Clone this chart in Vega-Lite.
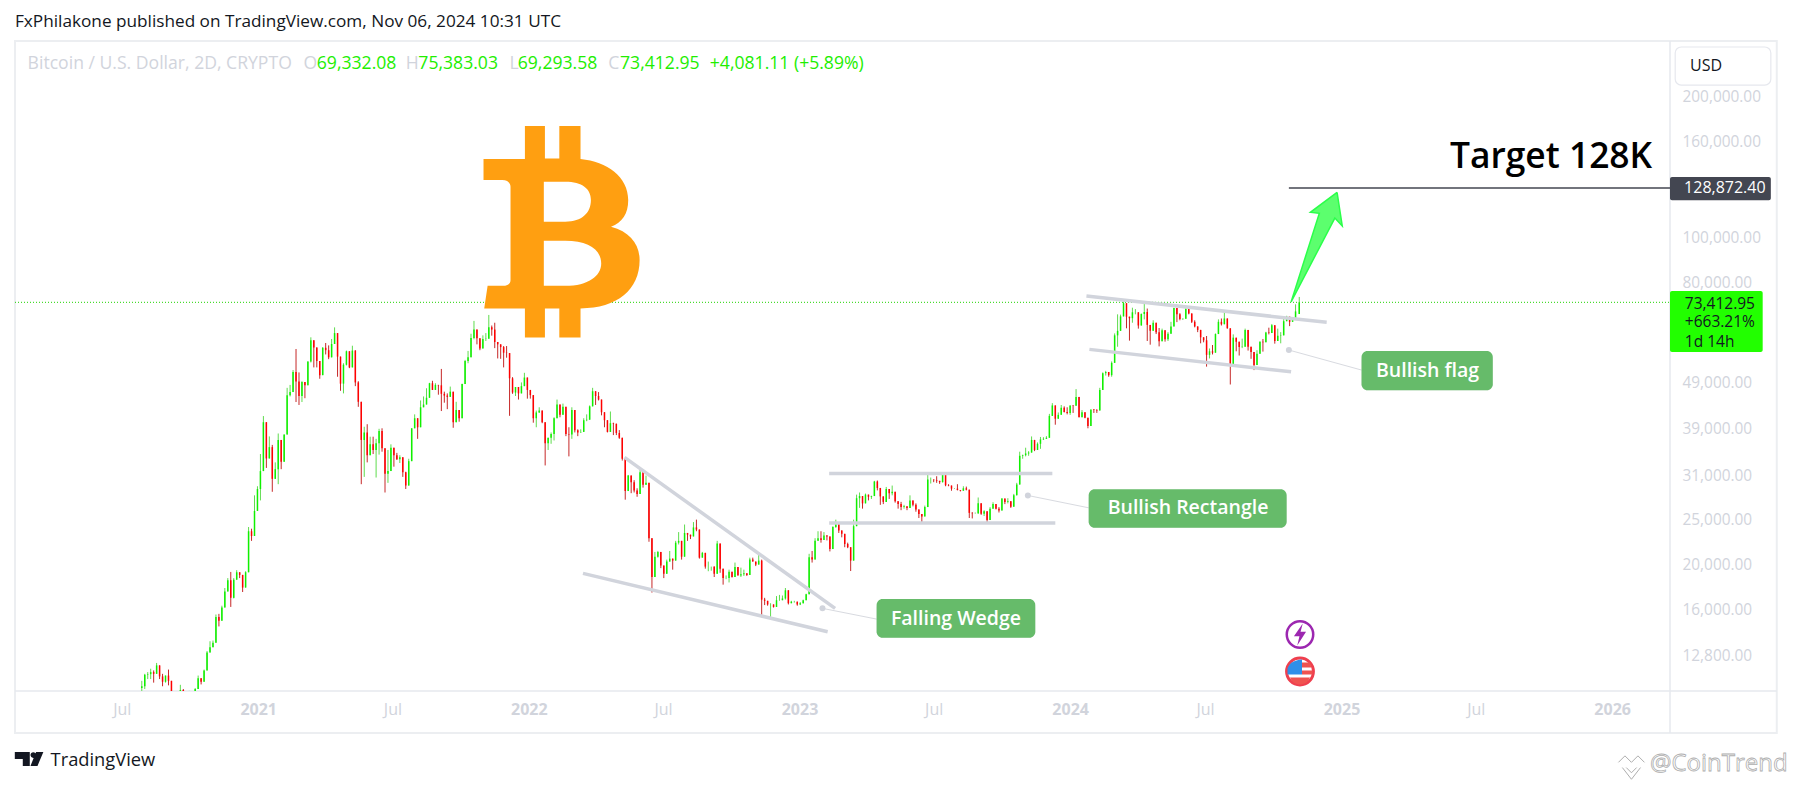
{
"$schema":"https://vega.github.io/schema/vega-lite/v6.json",
"width":1655,"height":650,
"autosize":{"type":"none"},
"padding":{"left":15,"top":41,"right":123,"bottom":95},
"background":"#ffffff",
"config":{"view":{"stroke":null},"text":{"font":"Open Sans"}},
"datasets":{
"candles":[
{"date":"2020-07-28","o":11000,"h":11400,"l":10600,"c":11100},{"date":"2020-08-01","o":11100,"h":11800,"l":10950,"c":11750},{"date":"2020-08-05","o":11750,"h":11900,"l":11500,"c":11780},{"date":"2020-08-09","o":11780,"h":12100,"l":11500,"c":11900},
{"date":"2020-08-13","o":11900,"h":12000,"l":11300,"c":11800},{"date":"2020-08-17","o":11800,"h":12450,"l":11800,"c":12300},{"date":"2020-08-21","o":12300,"h":12300,"l":11500,"c":11650},{"date":"2020-08-25","o":11650,"h":11800,"l":11100,"c":11350},
{"date":"2020-08-29","o":11350,"h":11700,"l":11300,"c":11700},{"date":"2020-09-02","o":11700,"h":12050,"l":11150,"c":11400},{"date":"2020-09-06","o":11400,"h":11400,"l":9900,"c":10280},{"date":"2020-09-10","o":10280,"h":10500,"l":10200,"c":10350},
{"date":"2020-09-14","o":10350,"h":10800,"l":10250,"c":10700},{"date":"2020-09-18","o":10700,"h":11180,"l":10700,"c":10900},{"date":"2020-09-22","o":10900,"h":10950,"l":10350,"c":10400},{"date":"2020-09-26","o":10400,"h":10800,"l":10400,"c":10750},
{"date":"2020-09-30","o":10750,"h":10850,"l":10650,"c":10780},{"date":"2020-10-04","o":10780,"h":10800,"l":10500,"c":10690},{"date":"2020-10-08","o":10690,"h":11000,"l":10550,"c":10950},{"date":"2020-10-12","o":10950,"h":11700,"l":10950,"c":11550},
{"date":"2020-10-16","o":11550,"h":11550,"l":11200,"c":11350},{"date":"2020-10-20","o":11350,"h":12050,"l":11350,"c":12000},{"date":"2020-10-24","o":12000,"h":13200,"l":12000,"c":13100},{"date":"2020-10-28","o":13100,"h":13850,"l":13100,"c":13450},
{"date":"2020-11-01","o":13450,"h":13900,"l":13450,"c":13750},{"date":"2020-11-05","o":13750,"h":15800,"l":13750,"c":15600},{"date":"2020-11-09","o":15600,"h":15850,"l":14900,"c":15330},{"date":"2020-11-13","o":15330,"h":16500,"l":15330,"c":16350},
{"date":"2020-11-17","o":16350,"h":18000,"l":16350,"c":17700},{"date":"2020-11-21","o":17700,"h":18900,"l":17700,"c":18700},{"date":"2020-11-25","o":18700,"h":19480,"l":16400,"c":17150},{"date":"2020-11-29","o":17150,"h":18900,"l":17100,"c":18750},
{"date":"2020-12-03","o":18750,"h":19650,"l":18750,"c":19450},{"date":"2020-12-07","o":19450,"h":19450,"l":18900,"c":19200},{"date":"2020-12-11","o":19200,"h":19200,"l":17650,"c":18040},{"date":"2020-12-15","o":18040,"h":19550,"l":18040,"c":19450},
{"date":"2020-12-19","o":19450,"h":24300,"l":19450,"c":23800},{"date":"2020-12-23","o":23800,"h":24100,"l":22700,"c":23250},{"date":"2020-12-27","o":23250,"h":28400,"l":23250,"c":26300},{"date":"2020-12-31","o":26300,"h":29700,"l":26300,"c":29300},
{"date":"2021-01-04","o":29300,"h":34800,"l":27700,"c":32000},{"date":"2021-01-08","o":32000,"h":41950,"l":32000,"c":40700},{"date":"2021-01-12","o":40700,"h":40700,"l":32500,"c":34050},{"date":"2021-01-16","o":34050,"h":37950,"l":34050,"c":36000},
{"date":"2021-01-20","o":36000,"h":36400,"l":28900,"c":30800},{"date":"2021-01-24","o":30800,"h":33400,"l":30800,"c":32300},{"date":"2021-01-28","o":32300,"h":38500,"l":30000,"c":37300},{"date":"2021-02-01","o":37300,"h":37300,"l":32300,"c":33500},
{"date":"2021-02-05","o":33500,"h":38300,"l":33500,"c":38300},{"date":"2021-02-09","o":38300,"h":48200,"l":38300,"c":46500},{"date":"2021-02-13","o":46500,"h":48900,"l":46200,"c":47200},{"date":"2021-02-17","o":47200,"h":52600,"l":47200,"c":52100},
{"date":"2021-02-21","o":52100,"h":58350,"l":44950,"c":49700},{"date":"2021-02-25","o":49700,"h":52000,"l":44300,"c":46300},{"date":"2021-03-01","o":46300,"h":49800,"l":44950,"c":49600},{"date":"2021-03-05","o":49600,"h":49600,"l":45800,"c":48800},
{"date":"2021-03-09","o":48800,"h":54900,"l":48800,"c":54900},{"date":"2021-03-13","o":54900,"h":61800,"l":54600,"c":60900},{"date":"2021-03-17","o":60900,"h":60900,"l":53300,"c":58800},{"date":"2021-03-21","o":58800,"h":58800,"l":53300,"c":55000},
{"date":"2021-03-25","o":55000,"h":55000,"l":50400,"c":51300},{"date":"2021-03-29","o":51300,"h":58900,"l":51300,"c":58700},{"date":"2021-04-02","o":58700,"h":60100,"l":56800,"c":58000},{"date":"2021-04-06","o":58000,"h":59400,"l":55500,"c":56000},
{"date":"2021-04-10","o":56000,"h":61300,"l":56000,"c":59800},{"date":"2021-04-14","o":59800,"h":64900,"l":59800,"c":63100},{"date":"2021-04-18","o":63100,"h":63100,"l":50900,"c":56200},{"date":"2021-04-22","o":56200,"h":56200,"l":47500,"c":49200},
{"date":"2021-04-26","o":49200,"h":54400,"l":46900,"c":54000},{"date":"2021-04-30","o":54000,"h":57900,"l":53800,"c":57700},{"date":"2021-05-04","o":57700,"h":57700,"l":53100,"c":53300},{"date":"2021-05-08","o":53300,"h":59300,"l":53300,"c":57900},
{"date":"2021-05-12","o":57900,"h":58000,"l":48600,"c":49500},{"date":"2021-05-16","o":49500,"h":49800,"l":43900,"c":45000},{"date":"2021-05-20","o":45000,"h":45000,"l":30000,"c":37300},{"date":"2021-05-24","o":37300,"h":39800,"l":31100,"c":38700},
{"date":"2021-05-28","o":38700,"h":40300,"l":33400,"c":34600},{"date":"2021-06-01","o":34600,"h":37900,"l":34600,"c":36500},{"date":"2021-06-05","o":36500,"h":37900,"l":34800,"c":35500},{"date":"2021-06-09","o":35500,"h":37500,"l":31000,"c":36700},
{"date":"2021-06-13","o":36700,"h":39400,"l":34700,"c":39000},{"date":"2021-06-17","o":39000,"h":39500,"l":35200,"c":35800},{"date":"2021-06-21","o":35800,"h":35800,"l":28800,"c":31600},{"date":"2021-06-25","o":31600,"h":35500,"l":30200,"c":32000},
{"date":"2021-06-29","o":32000,"h":36500,"l":32000,"c":35900},{"date":"2021-07-03","o":35900,"h":35900,"l":32700,"c":34600},{"date":"2021-07-07","o":34600,"h":35000,"l":33800,"c":33900},{"date":"2021-07-11","o":33900,"h":34600,"l":33300,"c":34250},
{"date":"2021-07-15","o":34250,"h":34250,"l":31100,"c":31800},{"date":"2021-07-19","o":31800,"h":31900,"l":29300,"c":29800},{"date":"2021-07-23","o":29800,"h":34000,"l":29800,"c":33600},{"date":"2021-07-27","o":33600,"h":39500,"l":33600,"c":39500},
{"date":"2021-07-31","o":39500,"h":42300,"l":39500,"c":41500},{"date":"2021-08-04","o":41500,"h":41500,"l":37500,"c":39700},{"date":"2021-08-08","o":39700,"h":45300,"l":39700,"c":43800},{"date":"2021-08-12","o":43800,"h":46200,"l":43800,"c":44400},
{"date":"2021-08-16","o":44400,"h":48100,"l":44400,"c":45900},{"date":"2021-08-20","o":45900,"h":49400,"l":45900,"c":49300},{"date":"2021-08-24","o":49300,"h":49900,"l":47700,"c":47700},{"date":"2021-08-28","o":47700,"h":49300,"l":47700,"c":48900},
{"date":"2021-09-01","o":48900,"h":48900,"l":46600,"c":48800},{"date":"2021-09-05","o":48800,"h":52900,"l":43000,"c":46800},{"date":"2021-09-09","o":46800,"h":47300,"l":44800,"c":46400},{"date":"2021-09-13","o":46400,"h":46900,"l":43400,"c":46100},
{"date":"2021-09-17","o":46100,"h":48500,"l":46100,"c":47300},{"date":"2021-09-21","o":47300,"h":47300,"l":39600,"c":40700},{"date":"2021-09-25","o":40700,"h":45000,"l":40700,"c":43200},{"date":"2021-09-29","o":43200,"h":43200,"l":40800,"c":41500},
{"date":"2021-10-03","o":41500,"h":49200,"l":41500,"c":49100},{"date":"2021-10-07","o":49100,"h":55300,"l":49100,"c":55000},{"date":"2021-10-11","o":55000,"h":57800,"l":54400,"c":56000},{"date":"2021-10-15","o":56000,"h":62900,"l":56000,"c":61600},
{"date":"2021-10-19","o":61600,"h":67000,"l":61200,"c":64200},{"date":"2021-10-23","o":64200,"h":64200,"l":59700,"c":61500},{"date":"2021-10-27","o":61500,"h":61500,"l":58000,"c":58500},{"date":"2021-10-31","o":58500,"h":62400,"l":58500,"c":61300},
{"date":"2021-11-04","o":61300,"h":63100,"l":60700,"c":61400},{"date":"2021-11-08","o":61400,"h":69000,"l":61400,"c":64900},{"date":"2021-11-12","o":64900,"h":65500,"l":62300,"c":64200},{"date":"2021-11-16","o":64200,"h":66400,"l":58600,"c":60400},
{"date":"2021-11-20","o":60400,"h":60400,"l":55700,"c":59700},{"date":"2021-11-24","o":59700,"h":59700,"l":55600,"c":58900},{"date":"2021-11-28","o":58900,"h":59200,"l":53300,"c":57300},{"date":"2021-12-02","o":57300,"h":59200,"l":55900,"c":57200},
{"date":"2021-12-06","o":57200,"h":57200,"l":42000,"c":50500},{"date":"2021-12-10","o":50500,"h":50800,"l":46800,"c":47100},{"date":"2021-12-14","o":47100,"h":48400,"l":46300,"c":48400},{"date":"2021-12-18","o":48400,"h":48400,"l":45500,"c":46900},
{"date":"2021-12-22","o":46900,"h":49500,"l":46900,"c":48600},{"date":"2021-12-26","o":48600,"h":51900,"l":48600,"c":50700},{"date":"2021-12-30","o":50700,"h":50700,"l":45700,"c":47700},{"date":"2022-01-03","o":47700,"h":47700,"l":45700,"c":46500},
{"date":"2022-01-07","o":46500,"h":46500,"l":40600,"c":41500},{"date":"2022-01-11","o":41500,"h":43100,"l":39700,"c":42700},{"date":"2022-01-15","o":42700,"h":43800,"l":42600,"c":43100},{"date":"2022-01-19","o":43100,"h":43100,"l":40500,"c":40700},
{"date":"2022-01-23","o":40700,"h":40700,"l":32900,"c":36700},{"date":"2022-01-27","o":36700,"h":37700,"l":35500,"c":37700},{"date":"2022-01-31","o":37700,"h":38700,"l":36600,"c":38400},{"date":"2022-02-04","o":38400,"h":41700,"l":37200,"c":41500},
{"date":"2022-02-08","o":41500,"h":45500,"l":41500,"c":44400},{"date":"2022-02-12","o":44400,"h":44400,"l":41700,"c":42200},{"date":"2022-02-16","o":42200,"h":44600,"l":42200,"c":43900},{"date":"2022-02-20","o":43900,"h":43900,"l":38000,"c":38400},
{"date":"2022-02-24","o":38400,"h":39700,"l":34400,"c":38300},{"date":"2022-02-28","o":38300,"h":43800,"l":37500,"c":43200},{"date":"2022-03-04","o":43200,"h":43200,"l":38700,"c":39100},{"date":"2022-03-08","o":39100,"h":39300,"l":38000,"c":38700},
{"date":"2022-03-12","o":38700,"h":39300,"l":38700,"c":38800},{"date":"2022-03-16","o":38800,"h":41500,"l":38800,"c":41100},{"date":"2022-03-20","o":41100,"h":42300,"l":40900,"c":41200},{"date":"2022-03-24","o":41200,"h":44200,"l":41200,"c":44000},
{"date":"2022-03-28","o":44000,"h":48200,"l":44000,"c":47400},{"date":"2022-04-01","o":47400,"h":47400,"l":44300,"c":46300},{"date":"2022-04-05","o":46300,"h":47200,"l":45300,"c":45500},{"date":"2022-04-09","o":45500,"h":45500,"l":42100,"c":42750},
{"date":"2022-04-13","o":42750,"h":42750,"l":39700,"c":41100},{"date":"2022-04-17","o":41100,"h":41100,"l":38700,"c":38800},{"date":"2022-04-21","o":38800,"h":42900,"l":38800,"c":40500},{"date":"2022-04-25","o":40500,"h":40600,"l":38200,"c":40400},
{"date":"2022-04-29","o":40400,"h":40400,"l":38200,"c":38600},{"date":"2022-05-03","o":38600,"h":39150,"l":37500,"c":37700},{"date":"2022-05-07","o":37700,"h":37700,"l":33700,"c":34000},{"date":"2022-05-11","o":34000,"h":34000,"l":27800,"c":29000},
{"date":"2022-05-15","o":29000,"h":31400,"l":29000,"c":31300},{"date":"2022-05-19","o":31300,"h":31300,"l":28700,"c":30300},{"date":"2022-05-23","o":30300,"h":30600,"l":28800,"c":29100},{"date":"2022-05-27","o":29100,"h":29400,"l":28200,"c":28600},
{"date":"2022-05-31","o":28600,"h":32200,"l":28600,"c":31800},{"date":"2022-06-04","o":31800,"h":31800,"l":29500,"c":29900},{"date":"2022-06-08","o":29900,"h":31300,"l":29900,"c":30200},{"date":"2022-06-12","o":30200,"h":30200,"l":22600,"c":23000},
{"date":"2022-06-16","o":23000,"h":23000,"l":17600,"c":19000},{"date":"2022-06-20","o":19000,"h":21500,"l":19000,"c":21000},{"date":"2022-06-24","o":21000,"h":21600,"l":20900,"c":21500},{"date":"2022-06-28","o":21500,"h":21500,"l":19850,"c":20100},
{"date":"2022-07-02","o":20100,"h":20100,"l":18900,"c":19300},{"date":"2022-07-06","o":19300,"h":20700,"l":19300,"c":20500},{"date":"2022-07-10","o":20500,"h":21600,"l":20500,"c":20800},{"date":"2022-07-14","o":20800,"h":20800,"l":19700,"c":20600},
{"date":"2022-07-18","o":20600,"h":22700,"l":20600,"c":22500},{"date":"2022-07-22","o":22500,"h":23700,"l":22300,"c":22700},{"date":"2022-07-26","o":22700,"h":22700,"l":20700,"c":21000},{"date":"2022-07-30","o":21000,"h":24600,"l":21000,"c":23600},
{"date":"2022-08-03","o":23600,"h":23600,"l":22700,"c":23400},{"date":"2022-08-07","o":23400,"h":23400,"l":22900,"c":23200},{"date":"2022-08-11","o":23200,"h":24900,"l":23200,"c":24250},{"date":"2022-08-15","o":24250,"h":25200,"l":23800,"c":24000},
{"date":"2022-08-19","o":24000,"h":24000,"l":20800,"c":20900},{"date":"2022-08-23","o":20900,"h":21500,"l":20900,"c":21400},{"date":"2022-08-27","o":21400,"h":21400,"l":19800,"c":20000},{"date":"2022-08-31","o":20000,"h":20500,"l":19550,"c":20000},
{"date":"2022-09-04","o":20000,"h":20000,"l":19600,"c":20000},{"date":"2022-09-08","o":20000,"h":20000,"l":19000,"c":19300},{"date":"2022-09-12","o":19300,"h":22700,"l":19300,"c":22400},{"date":"2022-09-16","o":22400,"h":22400,"l":19400,"c":19800},
{"date":"2022-09-20","o":19800,"h":19800,"l":18300,"c":18900},{"date":"2022-09-24","o":18900,"h":19150,"l":18800,"c":18900},{"date":"2022-09-28","o":18900,"h":19700,"l":18500,"c":19500},{"date":"2022-10-02","o":19500,"h":19500,"l":18950,"c":19000},
{"date":"2022-10-06","o":19000,"h":20400,"l":19000,"c":19950},{"date":"2022-10-10","o":19950,"h":19950,"l":19150,"c":19150},{"date":"2022-10-14","o":19150,"h":19900,"l":19000,"c":19250},{"date":"2022-10-18","o":19250,"h":19700,"l":19100,"c":19350},
{"date":"2022-10-22","o":19350,"h":19350,"l":19100,"c":19200},{"date":"2022-10-26","o":19200,"h":20900,"l":19200,"c":20700},{"date":"2022-10-30","o":20700,"h":20900,"l":20500,"c":20500},{"date":"2022-11-03","o":20500,"h":20500,"l":20050,"c":20200},
{"date":"2022-11-07","o":20200,"h":21450,"l":20200,"c":20600},{"date":"2022-11-11","o":20600,"h":20700,"l":15600,"c":17000},{"date":"2022-11-15","o":17000,"h":17150,"l":16550,"c":16900},{"date":"2022-11-19","o":16900,"h":16900,"l":16500,"c":16600},
{"date":"2022-11-23","o":16600,"h":16700,"l":15480,"c":16600},{"date":"2022-11-27","o":16600,"h":16600,"l":16350,"c":16400},{"date":"2022-12-01","o":16400,"h":17300,"l":16400,"c":16950},{"date":"2022-12-05","o":16950,"h":17400,"l":16900,"c":16950},
{"date":"2022-12-09","o":16950,"h":17350,"l":16950,"c":17100},{"date":"2022-12-13","o":17100,"h":18000,"l":17000,"c":17800},{"date":"2022-12-17","o":17800,"h":17800,"l":16600,"c":16700},{"date":"2022-12-21","o":16700,"h":16900,"l":16700,"c":16830},
{"date":"2022-12-25","o":16830,"h":16900,"l":16750,"c":16830},{"date":"2022-12-29","o":16830,"h":16830,"l":16500,"c":16600},{"date":"2023-01-02","o":16600,"h":16800,"l":16550,"c":16700},{"date":"2023-01-06","o":16700,"h":17000,"l":16680,"c":16950},
{"date":"2023-01-10","o":16950,"h":17500,"l":16950,"c":17450},{"date":"2023-01-14","o":17450,"h":21300,"l":17450,"c":20950},{"date":"2023-01-18","o":20950,"h":21600,"l":20400,"c":20700},{"date":"2023-01-22","o":20700,"h":23000,"l":20700,"c":22700},
{"date":"2023-01-26","o":22700,"h":23800,"l":22700,"c":23000},{"date":"2023-01-30","o":23000,"h":23800,"l":22500,"c":22800},{"date":"2023-02-03","o":22800,"h":23700,"l":22800,"c":23300},{"date":"2023-02-07","o":23300,"h":23350,"l":22750,"c":23200},
{"date":"2023-02-11","o":23200,"h":23200,"l":21550,"c":21800},{"date":"2023-02-15","o":21800,"h":24400,"l":21800,"c":24300},{"date":"2023-02-19","o":24300,"h":25200,"l":24200,"c":24900},{"date":"2023-02-23","o":24900,"h":24900,"l":23600,"c":23900},
{"date":"2023-02-27","o":23900,"h":23900,"l":23100,"c":23500},{"date":"2023-03-03","o":23500,"h":23500,"l":22000,"c":22350},{"date":"2023-03-07","o":22350,"h":22500,"l":21900,"c":22000},{"date":"2023-03-11","o":22000,"h":22000,"l":19570,"c":20600},
{"date":"2023-03-15","o":20600,"h":25200,"l":20600,"c":24400},{"date":"2023-03-19","o":24400,"h":28500,"l":24400,"c":28000},{"date":"2023-03-23","o":28000,"h":28800,"l":26700,"c":28300},{"date":"2023-03-27","o":28300,"h":28300,"l":26600,"c":27300},
{"date":"2023-03-31","o":27300,"h":28650,"l":27300,"c":28500},{"date":"2023-04-04","o":28500,"h":28500,"l":27700,"c":28200},{"date":"2023-04-08","o":28200,"h":28350,"l":27900,"c":28300},{"date":"2023-04-12","o":28300,"h":30500,"l":28300,"c":30400},
{"date":"2023-04-16","o":30400,"h":30550,"l":29100,"c":29450},{"date":"2023-04-20","o":29450,"h":29450,"l":27100,"c":28250},{"date":"2023-04-24","o":28250,"h":28250,"l":27200,"c":27500},{"date":"2023-04-28","o":27500,"h":29600,"l":27500,"c":29300},
{"date":"2023-05-02","o":29300,"h":29300,"l":27900,"c":28700},{"date":"2023-05-06","o":28700,"h":29800,"l":28400,"c":28900},{"date":"2023-05-10","o":28900,"h":28900,"l":27400,"c":27600},{"date":"2023-05-14","o":27600,"h":27600,"l":26600,"c":27200},
{"date":"2023-05-18","o":27200,"h":27500,"l":26400,"c":26800},{"date":"2023-05-22","o":26800,"h":27100,"l":26600,"c":26900},{"date":"2023-05-26","o":26900,"h":26900,"l":26400,"c":26700},{"date":"2023-05-30","o":26700,"h":28400,"l":26700,"c":27700},
{"date":"2023-06-03","o":27700,"h":27700,"l":26900,"c":27100},{"date":"2023-06-07","o":27100,"h":27300,"l":26200,"c":26500},{"date":"2023-06-11","o":26500,"h":26500,"l":25400,"c":25900},{"date":"2023-06-15","o":25900,"h":25900,"l":24800,"c":25600},
{"date":"2023-06-19","o":25600,"h":27000,"l":25600,"c":26800},{"date":"2023-06-23","o":26800,"h":31400,"l":26800,"c":30700},{"date":"2023-06-27","o":30700,"h":31000,"l":30100,"c":30700},{"date":"2023-07-01","o":30700,"h":30700,"l":30300,"c":30600},
{"date":"2023-07-05","o":30600,"h":31200,"l":30200,"c":30500},{"date":"2023-07-09","o":30500,"h":30500,"l":30050,"c":30300},{"date":"2023-07-13","o":30300,"h":31800,"l":30250,"c":31400},{"date":"2023-07-17","o":31400,"h":31400,"l":29700,"c":29850},
{"date":"2023-07-21","o":29850,"h":30000,"l":29700,"c":29800},{"date":"2023-07-25","o":29800,"h":29800,"l":29050,"c":29350},{"date":"2023-07-29","o":29350,"h":29400,"l":29300,"c":29350},{"date":"2023-08-02","o":29350,"h":30000,"l":29100,"c":29150},
{"date":"2023-08-06","o":29150,"h":29150,"l":28950,"c":29050},{"date":"2023-08-10","o":29050,"h":29700,"l":29050,"c":29400},{"date":"2023-08-14","o":29400,"h":29650,"l":29100,"c":29200},{"date":"2023-08-18","o":29200,"h":29200,"l":25400,"c":26050},
{"date":"2023-08-22","o":26050,"h":26150,"l":25350,"c":26000},{"date":"2023-08-26","o":26000,"h":26100,"l":25950,"c":26000},{"date":"2023-08-30","o":26000,"h":28100,"l":25900,"c":27300},{"date":"2023-09-03","o":27300,"h":27300,"l":25800,"c":25950},
{"date":"2023-09-07","o":25950,"h":26400,"l":25650,"c":26250},{"date":"2023-09-11","o":26250,"h":26250,"l":24900,"c":25150},{"date":"2023-09-15","o":25150,"h":26800,"l":25150,"c":26600},{"date":"2023-09-19","o":26600,"h":27450,"l":26600,"c":27200},
{"date":"2023-09-23","o":27200,"h":27200,"l":26500,"c":26580},{"date":"2023-09-27","o":26580,"h":26800,"l":26100,"c":26350},{"date":"2023-10-01","o":26350,"h":28000,"l":26350,"c":27950},{"date":"2023-10-05","o":27950,"h":27950,"l":27200,"c":27500},
{"date":"2023-10-09","o":27500,"h":28000,"l":27300,"c":27600},{"date":"2023-10-13","o":27600,"h":27600,"l":26700,"c":26860},{"date":"2023-10-17","o":26860,"h":28600,"l":26860,"c":28400},{"date":"2023-10-21","o":28400,"h":30200,"l":28400,"c":29950},
{"date":"2023-10-25","o":29950,"h":35200,"l":29950,"c":34500},{"date":"2023-10-29","o":34500,"h":34700,"l":34000,"c":34600},{"date":"2023-11-02","o":34600,"h":35900,"l":34400,"c":34900},{"date":"2023-11-06","o":34900,"h":35300,"l":34500,"c":35050},
{"date":"2023-11-10","o":35050,"h":37950,"l":35050,"c":37300},{"date":"2023-11-14","o":37300,"h":37300,"l":35300,"c":35500},{"date":"2023-11-18","o":35500,"h":36850,"l":35500,"c":36600},{"date":"2023-11-22","o":36600,"h":37850,"l":35700,"c":37400},
{"date":"2023-11-26","o":37400,"h":37800,"l":37300,"c":37500},{"date":"2023-11-30","o":37500,"h":38000,"l":37500,"c":37700},{"date":"2023-12-04","o":37700,"h":42400,"l":37700,"c":41980},{"date":"2023-12-08","o":41980,"h":44700,"l":41980,"c":44200},
{"date":"2023-12-12","o":44200,"h":44200,"l":40200,"c":41400},{"date":"2023-12-16","o":41400,"h":42700,"l":41400,"c":42200},{"date":"2023-12-20","o":42200,"h":44300,"l":42200,"c":43700},{"date":"2023-12-24","o":43700,"h":44000,"l":42700,"c":42800},
{"date":"2023-12-28","o":42800,"h":43800,"l":42300,"c":42600},{"date":"2024-01-01","o":42600,"h":44200,"l":42200,"c":44200},{"date":"2024-01-05","o":44200,"h":44300,"l":42600,"c":44150},{"date":"2024-01-09","o":44150,"h":47900,"l":44150,"c":46100},
{"date":"2024-01-13","o":46100,"h":46100,"l":41700,"c":41700},{"date":"2024-01-17","o":41700,"h":43200,"l":41700,"c":42750},{"date":"2024-01-21","o":42750,"h":42750,"l":41500,"c":41600},{"date":"2024-01-25","o":41600,"h":41600,"l":39500,"c":39950},
{"date":"2024-01-29","o":39950,"h":43300,"l":39950,"c":43300},{"date":"2024-02-02","o":43300,"h":43400,"l":42600,"c":43200},{"date":"2024-02-06","o":43200,"h":43400,"l":42600,"c":43100},{"date":"2024-02-10","o":43100,"h":48200,"l":43100,"c":47700},
{"date":"2024-02-14","o":47700,"h":52000,"l":47700,"c":51800},{"date":"2024-02-18","o":51800,"h":52400,"l":51200,"c":52100},{"date":"2024-02-22","o":52100,"h":52100,"l":50900,"c":51300},{"date":"2024-02-26","o":51300,"h":54900,"l":50900,"c":54500},
{"date":"2024-03-01","o":54500,"h":63000,"l":54500,"c":62400},{"date":"2024-03-05","o":62400,"h":69200,"l":59000,"c":63800},{"date":"2024-03-09","o":63800,"h":69100,"l":63800,"c":68500},{"date":"2024-03-13","o":68500,"h":73700,"l":68500,"c":73100},
{"date":"2024-03-17","o":73100,"h":73100,"l":64600,"c":68400},{"date":"2024-03-21","o":68400,"h":68400,"l":60800,"c":67900},{"date":"2024-03-25","o":67900,"h":71500,"l":66400,"c":69900},{"date":"2024-03-29","o":69900,"h":71000,"l":69200,"c":69900},
{"date":"2024-04-02","o":69900,"h":69900,"l":64500,"c":65500},{"date":"2024-04-06","o":65500,"h":69500,"l":65500,"c":69300},{"date":"2024-04-10","o":69300,"h":72800,"l":67500,"c":70000},{"date":"2024-04-14","o":70000,"h":71200,"l":60700,"c":65700},
{"date":"2024-04-18","o":65700,"h":65700,"l":59600,"c":63800},{"date":"2024-04-22","o":63800,"h":67200,"l":63800,"c":66400},{"date":"2024-04-26","o":66400,"h":66400,"l":62800,"c":63400},{"date":"2024-04-30","o":63400,"h":64700,"l":59100,"c":60600},
{"date":"2024-05-04","o":60600,"h":64500,"l":60600,"c":64000},{"date":"2024-05-08","o":64000,"h":64000,"l":60500,"c":61200},{"date":"2024-05-12","o":61200,"h":63400,"l":60700,"c":62900},{"date":"2024-05-16","o":62900,"h":66700,"l":62900,"c":65200},
{"date":"2024-05-20","o":65200,"h":71500,"l":65200,"c":71400},{"date":"2024-05-24","o":71400,"h":71400,"l":66600,"c":69200},{"date":"2024-05-28","o":69200,"h":69600,"l":67200,"c":67600},{"date":"2024-06-01","o":67600,"h":67800,"l":67300,"c":67700},
{"date":"2024-06-05","o":67700,"h":71800,"l":67700,"c":71100},{"date":"2024-06-09","o":71100,"h":71100,"l":69200,"c":69500},{"date":"2024-06-13","o":69500,"h":69500,"l":66300,"c":66700},{"date":"2024-06-17","o":66700,"h":67200,"l":64900,"c":65200},
{"date":"2024-06-21","o":65200,"h":65200,"l":63400,"c":64100},{"date":"2024-06-25","o":64100,"h":64100,"l":60000,"c":61800},{"date":"2024-06-29","o":61800,"h":61800,"l":60300,"c":60900},{"date":"2024-07-03","o":60900,"h":62200,"l":53500,"c":56700},
{"date":"2024-07-07","o":56700,"h":58500,"l":55700,"c":57700},{"date":"2024-07-11","o":57700,"h":59500,"l":56800,"c":57300},{"date":"2024-07-15","o":57300,"h":63000,"l":57300,"c":62800},{"date":"2024-07-19","o":62800,"h":67500,"l":62800,"c":66700},
{"date":"2024-07-23","o":66700,"h":67800,"l":65500,"c":65900},{"date":"2024-07-27","o":65900,"h":70000,"l":65900,"c":67800},{"date":"2024-07-31","o":67800,"h":67800,"l":64500,"c":64600},{"date":"2024-08-04","o":64600,"h":64600,"l":49000,"c":53900},
{"date":"2024-08-08","o":53900,"h":62700,"l":53900,"c":61700},{"date":"2024-08-12","o":61700,"h":61700,"l":57700,"c":60500},{"date":"2024-08-16","o":60500,"h":60500,"l":56500,"c":58900},{"date":"2024-08-20","o":58900,"h":61400,"l":58600,"c":59000},
{"date":"2024-08-24","o":59000,"h":64500,"l":59000,"c":64100},{"date":"2024-08-28","o":64100,"h":64100,"l":57900,"c":59000},{"date":"2024-09-01","o":59000,"h":59000,"l":55600,"c":57500},{"date":"2024-09-05","o":57500,"h":57500,"l":52600,"c":53900},
{"date":"2024-09-09","o":53900,"h":58000,"l":53900,"c":57000},{"date":"2024-09-13","o":57000,"h":60600,"l":57000,"c":60500},{"date":"2024-09-17","o":60500,"h":61300,"l":57600,"c":60300},{"date":"2024-09-21","o":60300,"h":63500,"l":60300,"c":63300},
{"date":"2024-09-25","o":63300,"h":64800,"l":62700,"c":63100},{"date":"2024-09-29","o":63100,"h":66000,"l":63100,"c":65600},{"date":"2024-10-03","o":65600,"h":65600,"l":59900,"c":60700},{"date":"2024-10-07","o":60700,"h":64500,"l":60700,"c":62300},
{"date":"2024-10-11","o":62300,"h":63400,"l":60000,"c":62400},{"date":"2024-10-15","o":62400,"h":67900,"l":62400,"c":66900},{"date":"2024-10-19","o":66900,"h":68700,"l":66900,"c":68400},{"date":"2024-10-23","o":68400,"h":68400,"l":65300,"c":66700},
{"date":"2024-10-27","o":66700,"h":68300,"l":66700,"c":68000},{"date":"2024-10-31","o":68000,"h":72700,"l":68000,"c":70200},{"date":"2024-11-05","o":69332.08,"h":75383.03,"l":69293.58,"c":73412.95}
],
"patterns":[
{"name":"Falling Wedge upper","date":"2022-05-10","date2":"2023-02-18","price":34228,"price2":16284},
{"name":"Falling Wedge lower","date":"2022-03-15","date2":"2023-02-08","price":19343,"price2":14512},
{"name":"Bullish Rectangle upper","date":"2023-02-10","date2":"2023-12-08","price":31631,"price2":31631},
{"name":"Bullish Rectangle lower","date":"2023-02-10","date2":"2023-12-12","price":24778,"price2":24778},
{"name":"Bullish flag upper","date":"2024-01-23","date2":"2024-12-12","price":75701,"price2":66523},
{"name":"Bullish flag lower","date":"2024-01-27","date2":"2024-10-25","price":58240,"price2":52152}
],
"connectors":[
{"name":"Falling Wedge","date":"2023-02-01","date2":"2023-04-15","price":16284,"price2":15448},
{"name":"Bullish Rectangle","date":"2023-11-05","date2":"2024-01-26","price":28380,"price2":26710},
{"name":"Bullish flag","date":"2024-10-22","date2":"2025-01-28","price":58049,"price2":52605}
],
"callouts":[
{"name":"Falling Wedge","date":"2023-04-15","date2":"2023-11-15","price":17048,"price2":14090},
{"name":"Bullish Rectangle","date":"2024-01-26","date2":"2024-10-19","price":29276,"price2":24214},
{"name":"Bullish flag","date":"2025-01-28","date2":"2025-07-24","price":57747,"price2":47653}
]
},
"encoding":{
"x":{"field":"date","type":"temporal","title":null,
"scale":{"type":"utc","domain":[{"year":2020,"month":"feb","date":8,"utc":true},{"year":2026,"month":"mar","date":20,"utc":true}]},
"axis":{"values":[{"year":2020,"month":"jul","date":1,"utc":true},{"year":2021,"month":"jan","date":1,"utc":true},{"year":2021,"month":"jul","date":1,"utc":true},{"year":2022,"month":"jan","date":1,"utc":true},{"year":2022,"month":"jul","date":1,"utc":true},{"year":2023,"month":"jan","date":1,"utc":true},{"year":2023,"month":"jul","date":1,"utc":true},{"year":2024,"month":"jan","date":1,"utc":true},{"year":2024,"month":"jul","date":1,"utc":true},{"year":2025,"month":"jan","date":1,"utc":true},{"year":2025,"month":"jul","date":1,"utc":true},{"year":2026,"month":"jan","date":1,"utc":true}],
"labelExpr":"utcmonth(datum.value)==0 ? utcyear(datum.value) : 'Jul'",
"labelFontWeight":{"condition":{"test":"utcmonth(datum.value)==0","value":"bold"},"value":"normal"},
"labelColor":"#d1d4dc","labelFont":"Open Sans","labelFontSize":16,"labelPadding":10,"labelOverlap":false,"domain":false,"ticks":false,"grid":false}},
"y":{"field":"price","type":"quantitative","title":null,
"scale":{"type":"log","domain":[10844,265590],"nice":false,"zero":false},
"axis":{"orient":"right","values":[12800,16000,20000,25000,31000,39000,49000,80000,100000,160000,200000],"format":",.2f","labelColor":"#d1d4dc","labelFont":"Open Sans","labelFontSize":15.4,"labelPadding":12,"labelOffset":-2,"labelOverlap":false,"labelBound":false,"domain":false,"ticks":false,"grid":false}}
},
"layer":[
{"data":{"values":[{"date":"2020-02-08","date2":"2026-08-11","price":265590,"price2":8818}]},
"mark":{"type":"rect","fill":null,"stroke":"#eceef1","strokeWidth":2},
"encoding":{"x2":{"field":"date2"},"y2":{"field":"price2"}}},
{"data":{"values":[{"date":"2020-02-08","date2":"2026-08-11","price":10844,"price2":10844},{"date":"2026-03-20","date2":"2026-03-20","price":265590,"price2":8818}]},
"mark":{"type":"rule","stroke":"#e6e8ee","strokeWidth":1.5},
"encoding":{"x2":{"field":"date2"},"y2":{"field":"price2"}}},
{"data":{"values":[{"date":"2020-02-08","date2":"2026-03-20","price":73412.95}]},
"mark":{"type":"rule","stroke":"#1fd400","strokeWidth":1,"strokeDash":[1,2]},
"encoding":{"x2":{"field":"date2"}}},
{"data":{"name":"candles"},
"mark":{"type":"rule","strokeWidth":1,"clip":true},
"encoding":{"y":{"field":"l","type":"quantitative"},"y2":{"field":"h"},
"color":{"condition":{"test":"datum.c>=datum.o","value":"#5fdc4e"},"value":"#c62828"}}},
{"data":{"name":"candles"},
"mark":{"type":"rule","strokeWidth":1.5,"clip":true},
"encoding":{"y":{"field":"o","type":"quantitative"},"y2":{"field":"c"},
"color":{"condition":{"test":"datum.c>=datum.o","value":"#10f000"},"value":"#ff0000"}}},
{"data":{"name":"patterns"},
"mark":{"type":"rule","stroke":"#d1d4dc","strokeWidth":3.5},
"encoding":{"x2":{"field":"date2"},"y2":{"field":"price2"}}},
{"data":{"name":"connectors"},
"mark":{"type":"rule","stroke":"#d8dae0","strokeWidth":1},
"encoding":{"x2":{"field":"date2"},"y2":{"field":"price2"}}},
{"data":{"name":"connectors"},
"mark":{"type":"point","filled":true,"fill":"#d1d4dc","size":36,"opacity":1,"strokeWidth":0}},
{"data":{"name":"callouts"},
"mark":{"type":"rect","fill":"#000000","opacity":0.1,"cornerRadius":6,"yOffset":3},
"encoding":{"x2":{"field":"date2"},"y2":{"field":"price2"}}},
{"data":{"name":"callouts"},
"mark":{"type":"rect","fill":"#66bb6a","cornerRadius":6},
"encoding":{"x2":{"field":"date2"},"y2":{"field":"price2"}}},
{"data":{"values":[{"label":"Falling Wedge","date":"2023-07-31","price":15478},{"label":"Bullish Rectangle","date":"2024-06-08","price":26629},{"label":"Bullish flag","date":"2025-04-27","price":52464}]},
"mark":{"type":"text","color":"#ffffff","fontSize":19.5,"fontWeight":600,"align":"center","baseline":"middle"},
"encoding":{"text":{"field":"label"}}},
{"data":{"values":[{"date":"2024-10-22","date2":"2026-03-20","price":128872.4}]},
"mark":{"type":"rule","stroke":"#434651","strokeWidth":1.5},
"encoding":{"x2":{"field":"date2"}}},
{"data":{"values":[{"date":"2026-02-24","price":150054,"label":"Target 128K"}]},
"mark":{"type":"text","color":"#000000","fontSize":35.4,"fontWeight":600,"align":"right","baseline":"middle"},
"encoding":{"text":{"field":"label"}}},
{"data":{"values":[{"date":"2024-12-26","price":126100,"step":1},{"date":"2025-01-02","price":106880,"step":2},{"date":"2024-12-23","price":111107,"step":3},{"date":"2024-10-25","price":73568,"step":4},{"date":"2024-12-02","price":113723,"step":5},{"date":"2024-11-20","price":114327,"step":6},{"date":"2024-12-26","price":126100,"step":7}]},
"mark":{"type":"line","fill":"#5cff6e","stroke":"#2bff4a","strokeWidth":1.5,"clip":false},
"encoding":{"order":{"field":"step","type":"ordinal"}}},
{"data":{"values":[{"date":"2022-02-15","price":103860}]},
"mark":{"type":"point","filled":true,"fill":"#ff9f11","opacity":1,"strokeWidth":0,"size":40000,
"shape":"M-.787,-.727 L-.373,-.727 L-.373,-1.057 L-.173,-1.057 L-.173,-.734 L-.029,-.734 L-.029,-1.057 L.183,-1.057 L.183,-.727 C.45,-.70 .66,-.55 .66,-.317 C.66,-.18 .6,-.09 .488,-.05 C.68,.0 .774,.13 .774,.283 C.774,.58 .55,.766 .183,.766 L.183,1.057 L-.029,1.057 L-.029,.766 L-.173,.766 L-.173,1.057 L-.373,1.057 L-.373,.766 L-.78,.766 L-.746,.54 L-.6,.54 C-.54,.54 -.517,.52 -.517,.483 L-.517,-.45 C-.517,-.49 -.55,-.517 -.6,-.517 L-.787,-.517 Z M-.184,-.5 L-.184,-.1 L.03,-.1 C.2,-.1 .287,-.19 .287,-.317 C.287,-.43 .2,-.5 .03,-.5 Z M-.184,.09 L-.184,.54 L.03,.54 C.26,.54 .39,.44 .39,.316 C.39,.18 .26,.09 .03,.09 Z"}},
{"data":{"values":[{"date":"2024-11-06","price":14321}]},
"mark":{"type":"point","shape":"circle","filled":true,"fill":"#ffffff","stroke":"#9c27b0","strokeWidth":2.5,"size":700,"opacity":1}},
{"data":{"values":[{"date":"2024-11-06","price":14321}]},
"mark":{"type":"point","filled":true,"fill":"#9c27b0","strokeWidth":0,"size":484,"opacity":1,"shape":"M.25,-1 L-.55,.15 L-.05,.15 L-.25,1 L.55,-.25 L.05,-.25 Z"}},
{"data":{"values":[{"date":"2024-11-06","price":11936}]},
"mark":{"type":"point","shape":"circle","filled":true,"fill":"#ffffff","stroke":"#ef3f4e","strokeWidth":3,"size":720,"opacity":1}},
{"data":{"values":[{"date":"2024-11-06","price":11936}]},
"mark":{"type":"point","filled":true,"fill":"#2f8fe8","strokeWidth":0,"size":400,"opacity":1,"shape":"M-1.25,.3 L-1.25,-.3 C-1.1,-.8 -.6,-1.15 .2,-1.2 L.2,.3 Z"}},
{"data":{"values":[{"date":"2024-11-06","price":11936}]},
"mark":{"type":"point","filled":true,"fill":"#ef5350","strokeWidth":0,"size":400,"opacity":1,"shape":"M.2,-.9 L1.0,-.9 L1.15,-.4 L.2,-.4 Z M.2,-.1 L1.25,-.1 L1.25,.3 L.2,.3 Z M-1,.6 L1,.6 C.8,1.1 .4,1.3 0,1.3 C-.4,1.3 -.8,1.1 -1,.6 Z"}},
{"data":{"values":[{"date":"2026-03-27","date2":"2026-08-03","price":257840,"price2":213860}]},
"mark":{"type":"rect","fill":"#ffffff","stroke":"#e6e8ee","strokeWidth":1.2,"cornerRadius":6},
"encoding":{"x2":{"field":"date2"},"y2":{"field":"price2"}}},
{"data":{"values":[{"date":"2026-03-20","date2":"2026-08-03","price":135965,"price2":121372}]},
"mark":{"type":"rect","fill":"#434651","cornerRadius":2},
"encoding":{"x2":{"field":"date2"},"y2":{"field":"price2"}}},
{"data":{"values":[{"date":"2026-03-20","date2":"2026-07-23","price":77593,"price2":57465}]},
"mark":{"type":"rect","fill":"#22ff00","cornerRadius":2},
"encoding":{"x2":{"field":"date2"},"y2":{"field":"price2"}}},
{"data":{"values":[{"label":"USD","date":"2026-04-16","price":234793}]},
"mark":{"type":"text","color":"#131722","fontSize":16,"align":"left","baseline":"middle"},
"encoding":{"text":{"field":"label"}}},
{"data":{"values":[{"label":"73,412.95","date":"2026-04-09","price":72700},{"label":"+663.21%","date":"2026-04-09","price":66500},{"label":"1d 14h","date":"2026-04-09","price":60500}]},
"mark":{"type":"text","color":"#131722","fontSize":15.5,"align":"left","baseline":"middle"},
"encoding":{"text":{"field":"label"}}},
{"data":{"values":[{"label":"128,872.40","date":"2026-04-08","price":128872.4}]},
"mark":{"type":"text","color":"#ffffff","fontSize":16,"align":"left","baseline":"middle"},
"encoding":{"text":{"field":"label"}}},
{"data":{"values":[{"label":"Bitcoin / U.S. Dollar, 2D, CRYPTO","date":"2020-02-25","price":237108},{"label":"O","date":"2021-03-03","price":237108},{"label":"H","date":"2021-07-19","price":237108},{"label":"L","date":"2021-12-06","price":237108},{"label":"C","date":"2022-04-18","price":237108}]},
"mark":{"type":"text","color":"#d1d4dc","fontSize":17.6,"align":"left","baseline":"middle"},
"encoding":{"text":{"field":"label"}}},
{"data":{"values":[{"label":"69,332.08","date":"2021-03-21","price":237108},{"label":"75,383.03","date":"2021-08-05","price":237108},{"label":"69,293.58","date":"2021-12-17","price":237108},{"label":"73,412.95","date":"2022-05-04","price":237108},{"label":"+4,081.11 (+5.89%)","date":"2022-09-02","price":237108}]},
"mark":{"type":"text","color":"#22ee00","fontSize":17.6,"align":"left","baseline":"middle"},
"encoding":{"text":{"field":"label"}}},
{"data":{"values":[{"label":"FxPhilakone published on TradingView.com, Nov 06, 2024 10:31 UTC","date":"2020-02-08","price":291554}]},
"mark":{"type":"text","color":"#131722","fontSize":17.2,"align":"left","baseline":"middle"},
"encoding":{"text":{"field":"label"}}},
{"data":{"values":[{"label":"TradingView","date":"2020-03-27","price":7689}]},
"mark":{"type":"text","color":"#131722","fontSize":18.3,"align":"left","baseline":"middle"},
"encoding":{"text":{"field":"label"}}},
{"data":{"values":[{"date":"2020-02-27","price":7764}]},
"mark":{"type":"point","filled":true,"fill":"#131722","strokeWidth":0,"size":784,"opacity":1,"shape":"M-1.02,-.5 L.05,-.5 L.05,.5 L-.45,.5 L-.45,0 L-1.02,0 Z M.1,-.27 A.2,.2 0 1 1 .5,-.27 A.2,.2 0 1 1 .1,-.27 Z M.5,-.5 L1.02,-.5 L.6,.5 L.1,.5 Z"}},
{"data":{"values":[{"label":"@CoinTrend","date":"2026-02-21","price":7568}]},
"mark":{"type":"text","fill":"#ffffff","stroke":"#aeaeae","strokeWidth":0.8,"fontSize":24,"align":"left","baseline":"middle"},
"encoding":{"text":{"field":"label"}}},
{"data":{"values":[{"date":"2026-01-27","price":7488}]},
"mark":{"type":"point","filled":false,"stroke":"#aeaeae","strokeWidth":1,"size":676,"opacity":1,"shape":"M-1,-.3 L-.5,-.8 L0,-.3 L.5,-.8 L1,-.3 M-.7,.1 L0,1 L.7,.1 M-.4,.1 L0,.5 L.4,.1"}}
]
}
